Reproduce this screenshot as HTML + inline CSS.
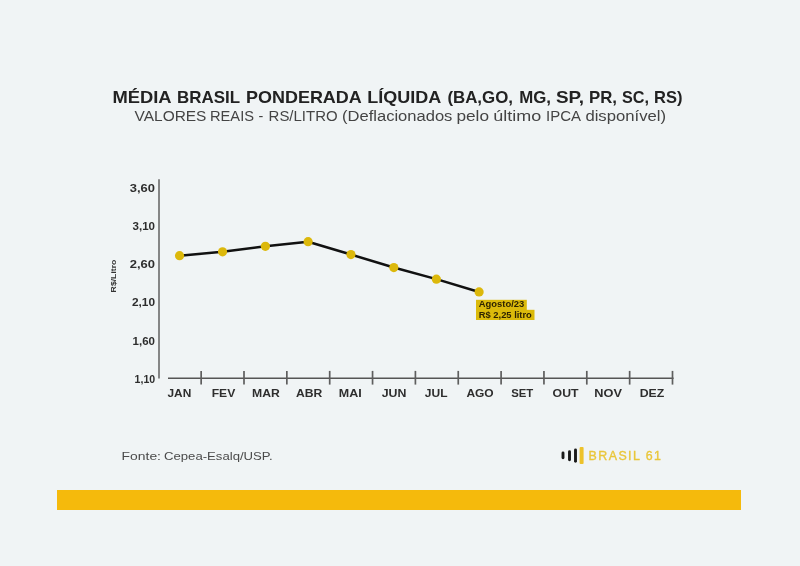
<!DOCTYPE html>
<html><head><meta charset="utf-8">
<style>
html,body{margin:0;padding:0;}
body{width:800px;height:566px;background:#f0f4f5;position:relative;overflow:hidden;font-family:"Liberation Sans",sans-serif;}
#bar{position:absolute;left:56.5px;top:490px;width:684.5px;height:19.5px;background:#f5ba0c;}
svg{position:absolute;left:0;top:0;will-change:transform;}
</style></head>
<body>
<svg width="800" height="566" viewBox="0 0 800 566">
  <g id="title"><text x="112.40" y="103" font-family="Liberation Sans" font-weight="bold" font-size="15.7" fill="#222" textLength="59.20" lengthAdjust="spacingAndGlyphs">MÉDIA</text><text x="177.00" y="103" font-family="Liberation Sans" font-weight="bold" font-size="15.7" fill="#222" textLength="63.00" lengthAdjust="spacingAndGlyphs">BRASIL</text><text x="246.00" y="103" font-family="Liberation Sans" font-weight="bold" font-size="15.7" fill="#222" textLength="115.80" lengthAdjust="spacingAndGlyphs">PONDERADA</text><text x="367.20" y="103" font-family="Liberation Sans" font-weight="bold" font-size="15.7" fill="#222" textLength="74.00" lengthAdjust="spacingAndGlyphs">LÍQUIDA</text><text x="447.40" y="103" font-family="Liberation Sans" font-weight="bold" font-size="15.7" fill="#222" textLength="65.60" lengthAdjust="spacingAndGlyphs">(BA,GO,</text><text x="519.20" y="103" font-family="Liberation Sans" font-weight="bold" font-size="15.7" fill="#222" textLength="31.80" lengthAdjust="spacingAndGlyphs">MG,</text><text x="556.00" y="103" font-family="Liberation Sans" font-weight="bold" font-size="15.7" fill="#222" textLength="28.00" lengthAdjust="spacingAndGlyphs">SP,</text><text x="589.00" y="103" font-family="Liberation Sans" font-weight="bold" font-size="15.7" fill="#222" textLength="28.00" lengthAdjust="spacingAndGlyphs">PR,</text><text x="622.00" y="103" font-family="Liberation Sans" font-weight="bold" font-size="15.7" fill="#222" textLength="27.00" lengthAdjust="spacingAndGlyphs">SC,</text><text x="654.00" y="103" font-family="Liberation Sans" font-weight="bold" font-size="15.7" fill="#222" textLength="28.40" lengthAdjust="spacingAndGlyphs">RS)</text></g>
  <g id="sub"><text x="134.60" y="120.7" font-family="Liberation Sans" font-size="14.7" fill="#444" textLength="71.80" lengthAdjust="spacingAndGlyphs">VALORES</text><text x="210.00" y="120.7" font-family="Liberation Sans" font-size="14.7" fill="#444" textLength="44.00" lengthAdjust="spacingAndGlyphs">REAIS</text><text x="258.60" y="120.7" font-family="Liberation Sans" font-size="14.7" fill="#444" textLength="4.80" lengthAdjust="spacingAndGlyphs">-</text><text x="268.60" y="120.7" font-family="Liberation Sans" font-size="14.7" fill="#444" textLength="69.00" lengthAdjust="spacingAndGlyphs">RS/LITRO</text><text x="342.00" y="120.7" font-family="Liberation Sans" font-size="14.7" fill="#444" textLength="110.40" lengthAdjust="spacingAndGlyphs">(Deflacionados</text><text x="456.40" y="120.7" font-family="Liberation Sans" font-size="14.7" fill="#444" textLength="32.60" lengthAdjust="spacingAndGlyphs">pelo</text><text x="493.20" y="120.7" font-family="Liberation Sans" font-size="14.7" fill="#444" textLength="48.00" lengthAdjust="spacingAndGlyphs">último</text><text x="546.00" y="120.7" font-family="Liberation Sans" font-size="14.7" fill="#444" textLength="35.00" lengthAdjust="spacingAndGlyphs">IPCA</text><text x="585.40" y="120.7" font-family="Liberation Sans" font-size="14.7" fill="#444" textLength="80.60" lengthAdjust="spacingAndGlyphs">disponível)</text></g>
  <g id="fonte"><text x="121.60" y="459.8" font-family="Liberation Sans" font-size="11.8" fill="#4a4a4a" textLength="39.40" lengthAdjust="spacingAndGlyphs">Fonte:</text><text x="164.00" y="459.8" font-family="Liberation Sans" font-size="11.8" fill="#4a4a4a" textLength="108.60" lengthAdjust="spacingAndGlyphs">Cepea-Esalq/USP.</text></g>
  <g stroke="#727272" stroke-width="1.7" fill="none">
    <line x1="159" y1="179.3" x2="159" y2="378.6"/>
  </g>
  <line x1="168" y1="378.2" x2="673.6" y2="378.2" stroke="#555" stroke-width="1.4"/>
  <g stroke="#5e5e5e" stroke-width="1.7">
    <line x1="201.15" y1="370.9" x2="201.15" y2="384.6"/>
    <line x1="244.00" y1="370.9" x2="244.00" y2="384.6"/>
    <line x1="286.85" y1="370.9" x2="286.85" y2="384.6"/>
    <line x1="329.70" y1="370.9" x2="329.70" y2="384.6"/>
    <line x1="372.55" y1="370.9" x2="372.55" y2="384.6"/>
    <line x1="415.40" y1="370.9" x2="415.40" y2="384.6"/>
    <line x1="458.25" y1="370.9" x2="458.25" y2="384.6"/>
    <line x1="501.10" y1="370.9" x2="501.10" y2="384.6"/>
    <line x1="543.95" y1="370.9" x2="543.95" y2="384.6"/>
    <line x1="586.80" y1="370.9" x2="586.80" y2="384.6"/>
    <line x1="629.65" y1="370.9" x2="629.65" y2="384.6"/>
    <line x1="672.50" y1="370.9" x2="672.50" y2="384.6"/>
  </g>
  <g font-family="Liberation Sans" font-weight="bold" font-size="11.6" fill="#2d2d2d" text-anchor="end" lengthAdjust="spacingAndGlyphs">
    <text x="155" y="191.5" textLength="25.2" lengthAdjust="spacingAndGlyphs">3,60</text>
    <text x="155" y="229.8" textLength="22.5" lengthAdjust="spacingAndGlyphs">3,10</text>
    <text x="155" y="268.1" textLength="25.3" lengthAdjust="spacingAndGlyphs">2,60</text>
    <text x="155" y="306.4" textLength="23.1" lengthAdjust="spacingAndGlyphs">2,10</text>
    <text x="155" y="344.7" textLength="22.4" lengthAdjust="spacingAndGlyphs">1,60</text>
    <text x="155.2" y="383.0" textLength="20.6" lengthAdjust="spacingAndGlyphs">1,10</text>
  </g>
  <g id="xl" font-family="Liberation Sans" font-weight="bold" font-size="11.5" fill="#2e2e2e">
    <text x="167.5" y="396.8" textLength="23.8" lengthAdjust="spacingAndGlyphs">JAN</text>
    <text x="211.7" y="396.8" textLength="23.6" lengthAdjust="spacingAndGlyphs">FEV</text>
    <text x="252.1" y="396.8" textLength="27.8" lengthAdjust="spacingAndGlyphs">MAR</text>
    <text x="296.1" y="396.8" textLength="26.3" lengthAdjust="spacingAndGlyphs">ABR</text>
    <text x="338.8" y="396.8" textLength="22.9" lengthAdjust="spacingAndGlyphs">MAI</text>
    <text x="381.7" y="396.8" textLength="24.7" lengthAdjust="spacingAndGlyphs">JUN</text>
    <text x="424.8" y="396.8" textLength="22.7" lengthAdjust="spacingAndGlyphs">JUL</text>
    <text x="466.4" y="396.8" textLength="27.3" lengthAdjust="spacingAndGlyphs">AGO</text>
    <text x="511.2" y="396.8" textLength="22.1" lengthAdjust="spacingAndGlyphs">SET</text>
    <text x="552.6" y="396.8" textLength="25.9" lengthAdjust="spacingAndGlyphs">OUT</text>
    <text x="594.3" y="396.8" textLength="27.6" lengthAdjust="spacingAndGlyphs">NOV</text>
    <text x="639.7" y="396.8" textLength="24.6" lengthAdjust="spacingAndGlyphs">DEZ</text>
  </g>
  <text transform="translate(115.9,276) rotate(-90)" font-family="Liberation Sans" font-weight="bold" font-size="8.1" fill="#333" text-anchor="middle" textLength="32.8" lengthAdjust="spacingAndGlyphs">R$/Litro</text>
  <polyline points="179.55,255.7 222.55,251.8 265.4,246.3 308.1,241.7 350.95,254.55 393.8,267.55 436.4,279.15 479.1,291.95" fill="none" stroke="#111" stroke-width="2.5" stroke-linejoin="round"/>
  <g fill="#dcb80b">
    <circle cx="179.55" cy="255.7" r="4.6"/>
    <circle cx="222.55" cy="251.8" r="4.6"/>
    <circle cx="265.4" cy="246.3" r="4.6"/>
    <circle cx="308.1" cy="241.7" r="4.6"/>
    <circle cx="350.95" cy="254.55" r="4.6"/>
    <circle cx="393.8" cy="267.55" r="4.6"/>
    <circle cx="436.4" cy="279.15" r="4.6"/>
    <circle cx="479.1" cy="291.95" r="4.6"/>
  </g>
  <rect x="476" y="299.8" width="50.8" height="10.2" fill="#dbba0b"/>
  <rect x="476" y="309.8" width="58.5" height="10.2" fill="#dbba0b"/>
  <g font-family="Liberation Sans" font-size="8.8" font-weight="bold" fill="#2e2400">
    <text x="478.8" y="307.4" textLength="45.5" lengthAdjust="spacingAndGlyphs">Agosto/23</text>
    <text x="478.8" y="317.6" textLength="53" lengthAdjust="spacingAndGlyphs">R$ 2,25 litro</text>
  </g>
  <!-- logo -->
  <g stroke-linecap="round">
    <line x1="563" y1="453" x2="563" y2="457.8" stroke="#1a1a1a" stroke-width="2.9"/>
    <line x1="569.5" y1="451.7" x2="569.5" y2="459.8" stroke="#1a1a1a" stroke-width="2.9"/>
    <line x1="575.5" y1="450" x2="575.5" y2="461.3" stroke="#1a1a1a" stroke-width="2.9"/>
  </g>
  <rect x="579.6" y="446.9" width="4" height="17.2" rx="1" fill="#edc22a"/>
  <text x="588.6" y="459.7" font-family="Liberation Sans" font-size="12.4" fill="#e9c63a" stroke="#e9c63a" stroke-width="0.35" textLength="72.4" lengthAdjust="spacing">BRASIL 61</text>
</svg>
<div id="bar"></div>
</body></html>
